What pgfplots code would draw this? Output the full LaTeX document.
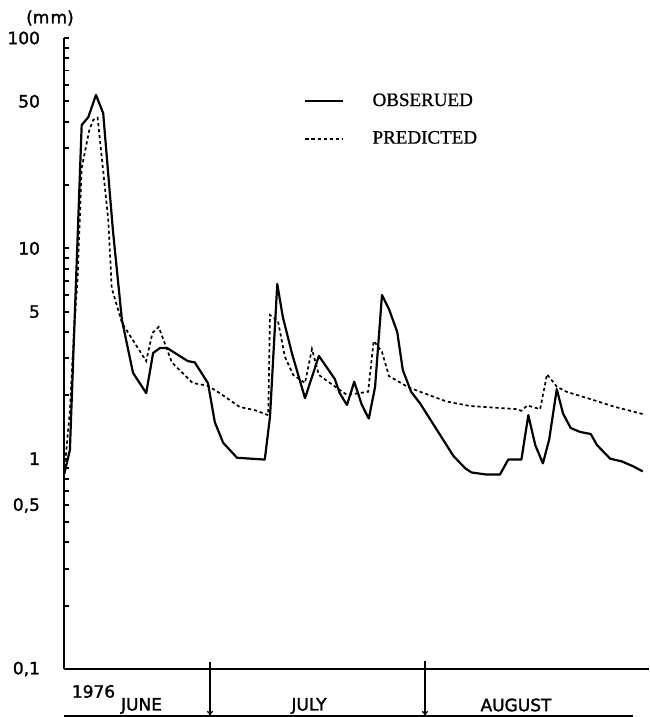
\documentclass[border=0pt]{standalone}
\usepackage{fontspec}
\setmainfont{DejaVu Sans}
\newfontfamily\lbl[FakeBold=1.6]{DejaVu Sans}
\newfontfamily\legendfont[FakeBold=0.8]{Liberation Serif}
\usepackage{pgfplots}
\usepackage{pgfplotstable}
\pgfplotsset{compat=1.18}
\usetikzlibrary{arrows.meta}

% day index: 1 = 1 June 1976, 31 = 1 July, 62 = 1 August
\pgfplotstableread{
t v
10.0 0.85
10.8 1.10
12.5 38.6
13.45 42.0
14.56 53.6
15.6 43.9
17.0 12.2
18.3 4.57
19.9 2.56
21.8 2.05
22.8 3.18
23.8 3.36
24.8 3.36
27.8 2.91
28.8 2.87
30.7 2.29
31.7 1.49
32.9 1.19
34.9 1.01
38.9 0.99
39.65 1.58
40.7 6.77
41.5 4.72
42.8 3.18
44.7 1.94
46.7 3.08
49.0 2.39
49.7 2.05
50.75 1.80
51.8 2.32
52.9 1.80
53.9 1.55
54.8 2.19
55.8 6.00
56.8 5.15
58.0 4.00
58.8 2.64
60.0 2.08
61.3 1.83
66.1 1.03
67.8 0.90
68.7 0.86
70.9 0.84
72.8 0.84
74.0 0.99
75.9 0.99
76.9 1.61
77.9 1.16
79.0 0.95
79.9 1.23
81.0 2.14
81.9 1.64
83.0 1.40
84.35 1.34
85.9 1.31
86.8 1.16
88.7 1.00
90.4 0.97
92.0 0.92
93.4 0.87
}\observed

\pgfplotstableread{
t v
10.0 0.85
10.8 1.70
11.4 4.09
11.9 7.08
12.5 24.1
13.6 36.5
14.17 40.8
14.8 41.8
16.34 13.6
16.83 6.48
18.31 4.42
21.8 2.91
22.7 3.96
23.6 4.23
25.5 2.87
28.5 2.29
30.7 2.22
32.4 2.05
35.3 1.76
37.5 1.70
39.4 1.61
39.65 4.82
40.8 4.52
41.8 3.05
43.0 2.50
44.7 2.29
45.7 3.32
46.7 2.50
48.7 2.24
50.75 2.01
53.8 2.08
54.6 3.63
55.8 3.22
56.8 2.47
59.55 2.19
61.3 2.08
65.1 1.87
68.5 1.78
71.85 1.75
75.2 1.72
75.9 1.69
76.75 1.79
78.6 1.72
79.6 2.52
81.0 2.20
82.4 2.08
86.3 1.90
89.2 1.77
93.4 1.63
}\predicted

\begin{document}
\begin{tikzpicture}
\useasboundingbox (-32pt,-24pt) rectangle (292.5pt,334.5pt);
\begin{axis}[
    at={(0pt,0pt)}, anchor=south west,
    scale only axis, width=292.5pt, height=315.5pt,
    ymode=log,
    xmin=9.95, xmax=94.3,
    ymin=0.1, ymax=100,
    axis x line*=bottom, axis y line*=left,
    axis line style={-, line width=1pt},
    xtick=\empty,
    ytick={0.1,0.5,1,5,10,50,100},
    yticklabels={{0,1},{\raisebox{5.6pt}[0pt][0pt]{0,5}},1,5,10,50,100},
    minor ytick={0.2,0.3,0.4,0.6,0.7,0.8,0.9,2,3,4,6,7,8,9,20,30,40,60,70,80,90},
    tick align=inside,
    major tick length=2.5pt, minor tick length=2.5pt,
    every tick/.style={black, line width=0.9pt},
    yticklabel style={font=\lbl\fontsize{8.5}{9}\selectfont, xshift=-8.5pt},
    clip=false,
    legend cell align=left,
    legend image code/.code={\draw[#1] (0pt,0pt) -- (18.5pt,0pt);},
    legend style={draw=none, fill=none, row sep=7pt,
      font=\legendfont\fontsize{9.5}{11}\selectfont,
      at={(axis description cs:0.40,0.870)}, anchor=west,
      /tikz/every odd column/.append style={column sep=12.5pt}},
]
\addplot[black, line width=1.1pt, line join=round] table[x=t, y=v] {\observed};
\addlegendentry{OBSERUED}
\addplot[black, line width=0.85pt, dash pattern=on 1.6pt off 1.4pt] table[x=t, y=v] {\predicted};
\addlegendentry{PREDICTED}
\end{axis}
\begin{scope}[every node/.style={font=\lbl\fontsize{8.5}{9}\selectfont}]
\node at (-7pt,325.5pt) {(m\kern0.6pt m)};
\node at (14.75pt,-11.25pt) {1976};
\node at (38.75pt,-18.5pt) {JUNE};
\node at (122.5pt,-18.5pt) {JULY};
\node at (226pt,-18pt) {AUGUST};
\end{scope}
\draw[line width=0.8pt] (0pt,-23.5pt) -- (284.5pt,-23.5pt);
\draw[line width=0.6pt, -{To[length=2.5pt,width=3pt]}] (73pt,3.5pt) -- (73pt,-23.5pt);
\draw[line width=0.6pt, -{To[length=2.5pt,width=3pt]}] (180.5pt,4pt) -- (180.5pt,-23.5pt);
\end{tikzpicture}
\end{document}
